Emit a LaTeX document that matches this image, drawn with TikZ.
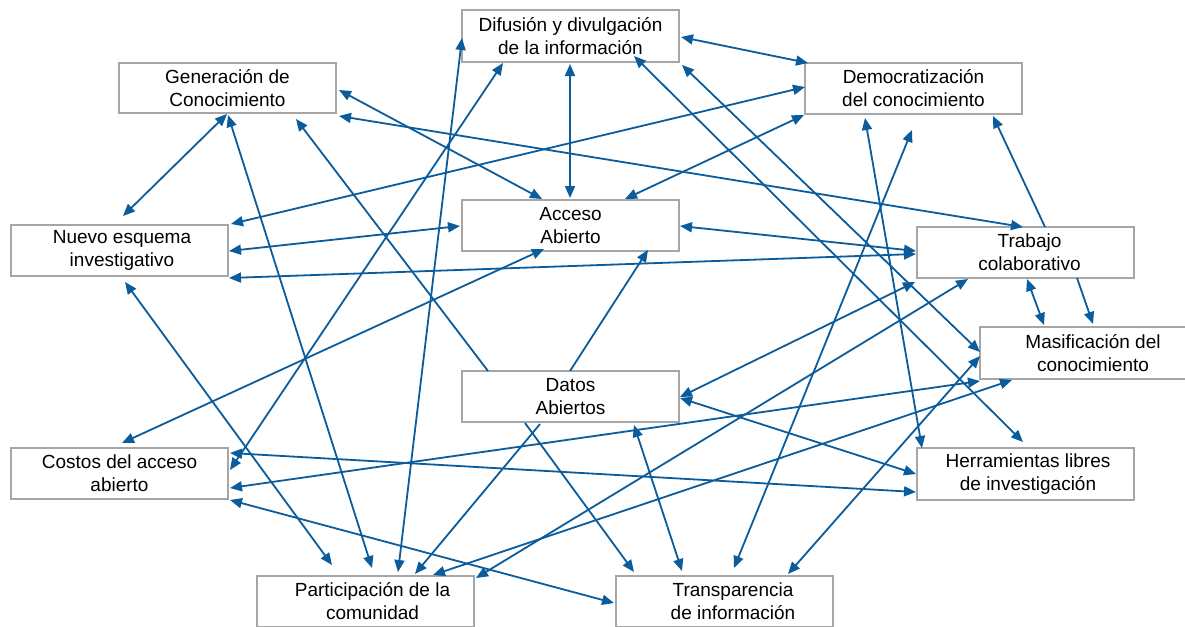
\documentclass[tikz,border=0pt]{standalone}
\usepackage{fontspec}
\setmainfont{Liberation Sans}
\usetikzlibrary{arrows.meta}
\definecolor{arrowblue}{RGB}{10,92,156}
\definecolor{boxgray}{RGB}{166,166,166}
\tikzset{
  txt/.style={inner sep=0pt, align=center, font=\fontsize{19}{23}\selectfont},
  box/.style={txt, draw=boxgray, line width=2pt, fill=white, minimum width=217pt, minimum height=51pt},
  con/.style={draw=arrowblue, line width=1.8pt},
  tip/.tip={Triangle[length=12pt,width=10pt]},
  both/.style={con, tip-tip},
  one/.style={con, -tip},
}
\begin{document}
\begin{tikzpicture}[x=1pt,y=-1pt]
\useasboundingbox (0,0) rectangle (1185,626);
\clip (0,0) rectangle (1185,626);
\fill[white] (0,0) rectangle (1185,626);
% boxes
\node[box, minimum height=52pt] (dif) at (570.5,36) {Difusión y divulgación\\de la información};
\node[box, minimum height=50pt] (gen) at (227.5,88) {Generación de\\Conocimiento};
\node[box] (dem) at (913.5,88.5) {Democratización\\del conocimiento};
\node[box] (acc) at (570.5,225.5) {Acceso\\Abierto};
\node[box] (nue) at (119.5,250.5) {};
\node[txt] (nuet) at ([xshift=2.5pt]nue.center) {Nuevo esquema\\investigativo};
\node[box] (tra) at (1025.5,252.5) {};
\node[txt] (trat) at ([xshift=4pt]tra.center) {Trabajo\\colaborativo};
\node[box, minimum width=226pt, minimum height=52pt] (mas) at (1093,353) {Masificación del\\conocimiento};
\node[box] (dat) at (570.5,396.5) {Datos\\Abiertos};
\node[box] (cos) at (119.5,473.5) {Costos del acceso\\abierto};
\node[box, minimum height=52pt] (her) at (1025.5,474) {};
\node[txt] (hert) at ([xshift=2.5pt]her.center) {Herramientas libres\\de investigación};
\node[box] (par) at (365.5,601.5) {};
\node[txt] (part) at ([xshift=7pt]par.center) {Participación de la\\comunidad};
\node[box] (trn) at (724.5,601.5) {};
\node[txt] (trnt) at ([xshift=8.5pt]trn.center) {Transparencia\\de información};
% connectors
\draw[both] ([shift={(-108.5,2)}]dif.center) -- ([shift={(32.5,-29.5)}]par.center);
\draw[both] ([shift={(-67.5,27)}]dif.center) -- ([shift={(110.5,-3.5)}]cos.center);
\draw[both] ([shift={(-0.5,28)}]dif.center) -- ([shift={(-0.5,-27.5)}]acc.center);
\draw[both] ([shift={(63.5,20)}]dif.center) -- ([shift={(-2.5,-32)}]her.center);
\draw[both] ([shift={(110.5,1)}]dif.center) -- ([shift={(-105.5,-25.5)}]dem.center);
\draw[both] ([shift={(111.5,29)}]dif.center) -- ([shift={(-113,-1)}]mas.center);
\draw[both] ([shift={(111.5,-26.5)}]nue.center) -- ([shift={(-108.5,-1.5)}]dem.center);
\draw[both] ([shift={(54.5,-26.5)}]acc.center) -- ([shift={(-109.5,26.5)}]dem.center);
\draw[both] ([shift={(-48.5,29.5)}]dem.center) -- ([shift={(-103.5,-26)}]her.center);
\draw[both] ([shift={(-1.5,41.5)}]dem.center) -- ([shift={(9.5,-33.5)}]trn.center);
\draw[one] ([shift={(19.5,-25.5)}]tra.center) -- ([shift={(79.5,27.5)}]dem.center);
\draw[both] ([shift={(111.5,28)}]gen.center) -- ([shift={(-2.5,-25.5)}]tra.center);
\draw[both] ([shift={(111.5,2)}]gen.center) -- ([shift={(-28.5,-26.5)}]acc.center);
\draw[both] ([shift={(-0.5,26)}]gen.center) -- ([shift={(3.5,-34.5)}]nue.center);
\draw[both] ([shift={(0.5,27)}]gen.center) -- ([shift={(6.5,-33.5)}]par.center);
\draw[one] ([shift={(-82.5,-25.5)}]dat.center) -- ([shift={(68.5,31)}]gen.center);
\draw[both] ([shift={(109.5,0.5)}]nue.center) -- ([shift={(-110.5,0.5)}]acc.center);
\draw[both] ([shift={(109.5,27.5)}]nue.center) -- ([shift={(-109.5,1.5)}]tra.center);
\draw[both] ([shift={(109.5,0.5)}]acc.center) -- ([shift={(-109.5,-1.5)}]tra.center);
\draw[both] ([shift={(5.5,31.5)}]nue.center) -- ([shift={(-33.5,-36.5)}]par.center);
\draw[both] ([shift={(2.5,-30.5)}]cos.center) -- ([shift={(-26.5,23.5)}]acc.center);
\draw[one] ([shift={(-0.5,-25.5)}]dat.center) -- ([shift={(77.5,24.5)}]acc.center);
\draw[both] ([shift={(1.5,26.5)}]tra.center) -- ([shift={(-49,-28)}]mas.center);
\draw[one] ([shift={(51.5,25.5)}]tra.center) -- ([shift={(0,-29)}]mas.center);
\draw[both] ([shift={(109.5,0.5)}]dat.center) -- ([shift={(-110.5,29.5)}]tra.center);
\draw[one] ([shift={(-30.5,27.5)}]dat.center) -- ([shift={(49.5,-27.5)}]par.center);
\draw[both] ([shift={(67.5,-26.5)}]par.center) -- ([shift={(-81,27)}]mas.center);
\draw[both] ([shift={(63.5,-27.5)}]trn.center) -- ([shift={(-113,3)}]mas.center);
\draw[both] ([shift={(110.5,14.5)}]cos.center) -- ([shift={(-113,28)}]mas.center);
\draw[both] ([shift={(110.5,-20.5)}]cos.center) -- ([shift={(-109.5,18)}]her.center);
\draw[both] ([shift={(110.5,26.5)}]cos.center) -- ([shift={(-110.5,1.5)}]trn.center);
\draw[both] ([shift={(109.5,1.5)}]dat.center) -- ([shift={(-109.5,0)}]her.center);
\draw[both] ([shift={(63.5,28.5)}]dat.center) -- ([shift={(-42.5,-30.5)}]trn.center);
\draw[one] ([shift={(-45.5,26.5)}]dat.center) -- ([shift={(-90.5,-29.5)}]trn.center);
\draw[both] ([shift={(110.5,-23.5)}]par.center) -- ([shift={(-57.5,26.5)}]tra.center);
\end{tikzpicture}
\end{document}
